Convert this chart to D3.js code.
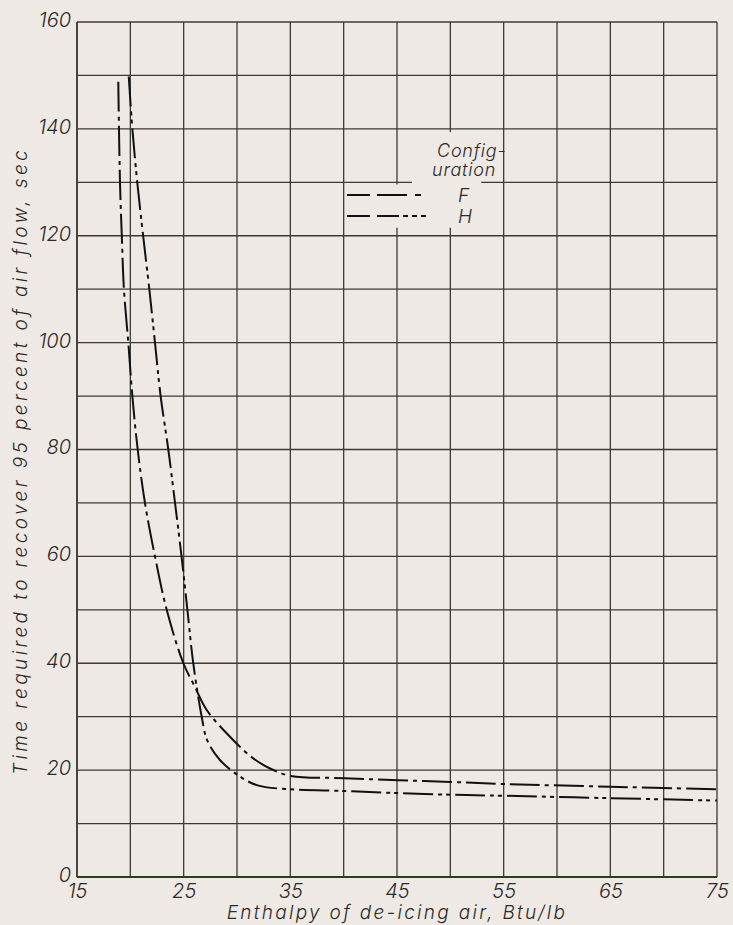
<!DOCTYPE html>
<html>
<head>
<meta charset="utf-8">
<script src="https://cdn.jsdelivr.net/npm/d3@7"></script>
<style>
  html, body { margin:0; padding:0; background:#efe9e6; }
  svg { display:block; }
  text { font-family:Inter, "DejaVu Sans", sans-serif; font-style:italic; font-weight:300; fill:#2a2a28; }
</style>
</head>
<body>
<svg id="chart" width="733" height="925"></svg>
<script>
// values: [enthalpy Btu/lb, time sec]
const configF = [
  [18.87,148.8],[19.03,130],[19.2,120],[19.4,110],[19.81,100],[20.19,90],[20.69,80],
  [21.37,70],[22.31,60],[23.41,50],[24.97,40],[26.0,35.8],[27.16,31.25],[29.66,25.6],
  [31.53,22.2],[33.1,20.3],[35.06,18.9],[40.1,18.5],[45.1,18.1],[50,17.8],[55,17.4],
  [65,16.9],[75,16.4]
];
const configH = [
  [19.85,149.8],[20.19,140],[20.65,130],[21.2,120],[21.78,110],[22.31,100],[22.84,90],
  [23.56,80],[24.19,70],[24.8,60],[25.35,50],[25.9,40],[26.69,30],[27.2,25.6],[28.4,21.9],
  [30.06,19.1],[31.85,17.2],[35.06,16.4],[40.1,16.1],[45.1,15.7],[50,15.4],[55,15.2],
  [65,14.75],[75,14.3]
];
const xTickLabels = [15,25,35,45,55,65,75];
const yTickLabels = [0,20,40,60,80,100,120,140,160];
const xGrid = d3.range(15,76,5);
const yGrid = d3.range(0,161,10);

const svg = d3.select('#chart');
const m = {left:77, right:16, top:22, bottom:48};
const W = 733, H = 925;
const paper = '#efe9e6';
const x = d3.scaleLinear().domain([15,75]).range([m.left, W-m.right]);
const y = d3.scaleLinear().domain([0,160]).range([H-m.bottom, m.top]);

const ink = '#3b3b33';

// grid
svg.append('g').selectAll('line').data(xGrid).join('line')
  .attr('x1', d=>x(d)).attr('x2', d=>x(d)).attr('y1', y(0)).attr('y2', y(160))
  .attr('stroke', ink).attr('stroke-width', 1.3);
svg.append('g').selectAll('line').data(yGrid).join('line')
  .attr('y1', d=>y(d)).attr('y2', d=>y(d)).attr('x1', x(15)).attr('x2', x(75))
  .attr('stroke', ink).attr('stroke-width', 1.3);
// heavier baseline and left edge
svg.append('line').attr('x1', x(15)).attr('x2', x(75)).attr('y1', y(0)).attr('y2', y(0))
  .attr('stroke', '#2e3a22').attr('stroke-width', 2.2);
svg.append('line').attr('x1', x(15)).attr('x2', x(15)).attr('y1', y(0)).attr('y2', y(160))
  .attr('stroke', ink).attr('stroke-width', 1.6);

// the draftsman left the grid blank behind the legend
svg.append('rect').attr('x', x(46.4)).attr('y', y(139.4)).attr('width', x(52.9)-x(46.4)).attr('height', y(121.5)-y(139.4)).attr('fill', paper);
svg.append('rect').attr('x', x(44.5)).attr('y', y(129.6)).attr('width', x(45.5)-x(44.5)).attr('height', y(121.5)-y(129.6)).attr('fill', paper);

// tick labels via axes
const xAxis = svg.append('g').attr('transform', `translate(0,${y(0)})`)
  .call(d3.axisBottom(x).tickValues(xTickLabels).tickSize(0).tickFormat(d3.format('d')));
const yAxis = svg.append('g').attr('transform', `translate(${x(15)},0)`)
  .call(d3.axisLeft(y).tickValues(yTickLabels).tickSize(0).tickPadding(6).tickFormat(d3.format('d')));
[xAxis, yAxis].forEach(a => {
  a.select('.domain').remove();
  a.selectAll('text').attr('font-size', 20).attr('fill', '#2a2a28')
    .style('font-family', 'Inter, "DejaVu Sans", sans-serif').style('font-style','italic').style('font-weight', 300);
});
xAxis.selectAll('text').attr('y', 21).attr('dy', 0);
yAxis.selectAll('text').attr('dy', '0.22em');

// axis titles
svg.append('text').attr('x', (x(15)+x(75))/2).attr('y', 919).attr('text-anchor','middle')
  .attr('font-size', 19).attr('letter-spacing', 2.3).text('Enthalpy of de-icing air, Btu/lb');
svg.append('text').attr('transform', `translate(27,461) rotate(-90)`)
  .attr('text-anchor','middle').attr('font-size', 19).attr('letter-spacing', 3.4)
  .text('Time required to recover 95 percent of air flow, sec');

// curves
const line = d3.line().x(d=>x(d[0])).y(d=>y(d[1])).curve(d3.curveCatmullRom.alpha(0.5));
svg.append('path').datum(configF).attr('d', line).attr('fill','none')
  .attr('stroke','#111').attr('stroke-width', 2).attr('stroke-dasharray','30,5,4,5');
svg.append('path').datum(configH).attr('d', line).attr('fill','none')
  .attr('stroke','#111').attr('stroke-width', 2).attr('stroke-dasharray','30,5,4,4,4,5');

// legend
const lg = svg.append('g');
lg.append('text').attr('x', 437).attr('y', 157).attr('font-size', 18).attr('letter-spacing', 0.8).text('Config-');
lg.append('text').attr('x', 432).attr('y', 176).attr('font-size', 18).attr('letter-spacing', 0.8).text('uration');
lg.append('line').attr('x1', 347).attr('x2', 423).attr('y1', 195).attr('y2', 195)
  .attr('stroke','#111').attr('stroke-width', 2).attr('stroke-dasharray','23,7,30,8,6');
lg.append('line').attr('x1', 347).attr('x2', 430).attr('y1', 216).attr('y2', 216)
  .attr('stroke','#111').attr('stroke-width', 2).attr('stroke-dasharray','23,7,22,4,5,4,5,4,5');
lg.append('text').attr('x', 458).attr('y', 202).attr('font-size', 19).text('F');
lg.append('text').attr('x', 458).attr('y', 223).attr('font-size', 19).text('H');
</script>
</body>
</html>
